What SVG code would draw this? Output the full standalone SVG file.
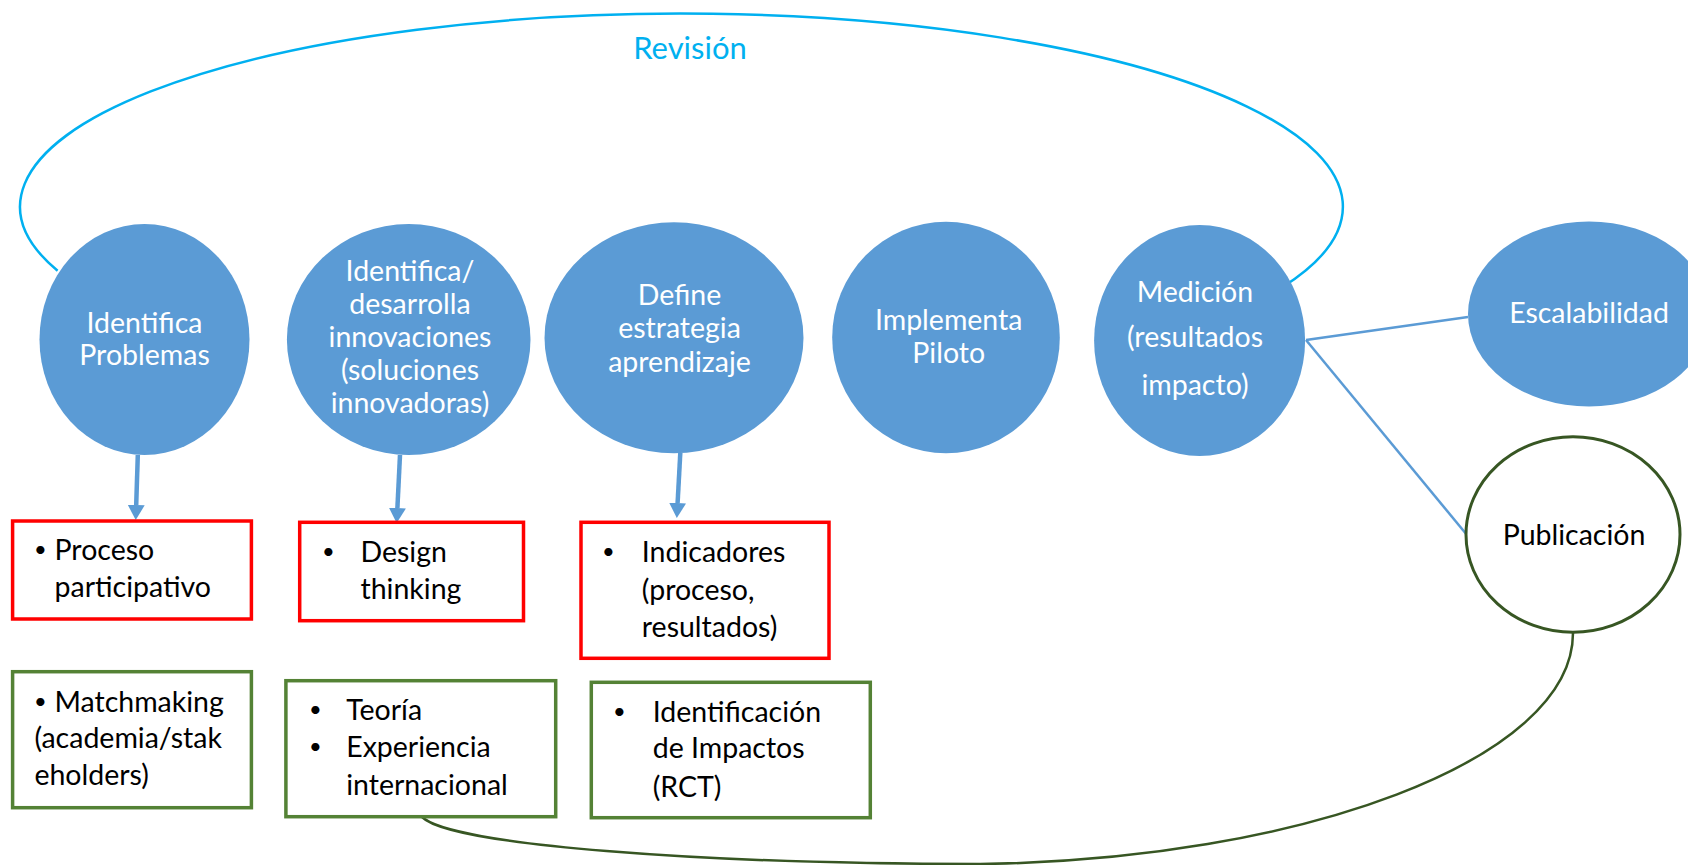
<svg xmlns="http://www.w3.org/2000/svg" width="1688" height="865" viewBox="0 0 1688 865">
<style>
.c{fill:#5B9BD5}
.t{font-family:Lato,"Liberation Sans",sans-serif;font-size:28.5px}
.w{fill:#FFFFFF;text-anchor:middle}
.k{fill:#000000}
.b{font-size:22px}
.red{fill:#FFFFFF;stroke:#FF0000;stroke-width:3.5}
.grn{fill:#FFFFFF;stroke:#548235;stroke-width:3.5}
.conn{fill:none;stroke:#5B9BD5;stroke-width:2.5}
.arr{fill:none;stroke:#5B9BD5;stroke-width:4.5}
</style>
<defs>
<marker id="ah" viewBox="0 0 15 17" refX="0" refY="8.5" markerWidth="15" markerHeight="17" markerUnits="userSpaceOnUse" orient="auto">
<path d="M0,0 L15,8.5 L0,17 z" fill="#5B9BD5"/>
</marker>
</defs>
<rect width="1688" height="865" fill="#FFFFFF"/>

<g id="connectors">
<path d="M57.6,270.7 A661.4,193 0 1 1 1282.3,287.3" fill="none" stroke="#00B0F0" stroke-width="2.5"/>
<line class="arr" x1="137.8" y1="455" x2="136.2" y2="505" marker-end="url(#ah)"/>
<line class="arr" x1="400" y1="455" x2="397.4" y2="508" marker-end="url(#ah)"/>
<line class="arr" x1="680.3" y1="453" x2="677.6" y2="503" marker-end="url(#ah)"/>
<line class="conn" x1="1306" y1="340" x2="1468" y2="317"/>
<line class="conn" x1="1306" y1="340" x2="1467" y2="535"/>
<path d="M422,817 C450,845 700,864 980,864 C1300,860 1573,760 1573,633" fill="none" stroke="#375623" stroke-width="2.5"/>
</g>

<text class="t" x="690" y="59" text-anchor="middle" fill="#00B0F0" style="font-size:31px">Revisión</text>

<g id="n1">
<ellipse class="c" cx="144.5" cy="339.5" rx="105" ry="115.5"/>
<text class="t w"><tspan x="144.5" y="333">Identifica</tspan><tspan x="144.5" y="365">Problemas</tspan></text>
</g>
<g id="n2">
<ellipse class="c" cx="408.7" cy="339.5" rx="121.8" ry="115.5"/>
<text class="t w"><tspan x="410" y="281">Identifica/</tspan><tspan x="410" y="314">desarrolla</tspan><tspan x="410" y="347">innovaciones</tspan><tspan x="410" y="380">(soluciones</tspan><tspan x="410" y="413">innovadoras)</tspan></text>
</g>
<g id="n3">
<ellipse class="c" cx="674" cy="337.8" rx="129.5" ry="115.5"/>
<text class="t w"><tspan x="679.5" y="305">Define</tspan><tspan x="679.5" y="338">estrategia</tspan><tspan x="679.5" y="372">aprendizaje</tspan></text>
</g>
<g id="n4">
<ellipse class="c" cx="946" cy="337.5" rx="113.8" ry="115.8"/>
<text class="t w"><tspan x="948.7" y="330">Implementa</tspan><tspan x="948.7" y="362.7">Piloto</tspan></text>
</g>
<g id="n5">
<ellipse class="c" cx="1199.6" cy="340.5" rx="105.5" ry="115.5"/>
<text class="t w"><tspan x="1195" y="301.7">Medición</tspan><tspan x="1195" y="347.3">(resultados</tspan><tspan x="1195" y="395">impacto)</tspan></text>
</g>
<g id="n6">
<ellipse class="c" cx="1589" cy="314" rx="121" ry="92.5"/>
<text class="t w" x="1589" y="323.3">Escalabilidad</text>
</g>
<g id="n7">
<ellipse cx="1573" cy="534.5" rx="107" ry="97.8" fill="#FFFFFF" stroke="#375623" stroke-width="3"/>
<text class="t k" x="1574" y="545" text-anchor="middle">Publicación</text>
</g>

<g id="b1">
<rect class="red" x="12.6" y="521" width="238.8" height="98"/>
<text class="t k"><tspan class="b" x="34" y="557">•</tspan><tspan x="54.5" y="560">Proceso</tspan><tspan x="54.5" y="597">participativo</tspan></text>
</g>
<g id="b2">
<rect class="red" x="299.7" y="522.3" width="223.8" height="98.4"/>
<text class="t k"><tspan class="b" x="322" y="558.7">•</tspan><tspan x="360.5" y="561.7">Design</tspan><tspan x="360.5" y="599.3">thinking</tspan></text>
</g>
<g id="b3">
<rect class="red" x="581" y="522.3" width="248" height="136"/>
<text class="t k"><tspan class="b" x="602" y="558.7">•</tspan><tspan x="641.8" y="561.7">Indicadores</tspan><tspan x="641.8" y="600">(proceso,</tspan><tspan x="641.8" y="636.7">resultados)</tspan></text>
</g>
<g id="b4">
<rect class="grn" x="12.6" y="671.7" width="238.8" height="136"/>
<text class="t k"><tspan class="b" x="34" y="708.7">•</tspan><tspan x="54.5" y="711.7">Matchmaking</tspan><tspan x="34.4" y="748.3">(academia/stak</tspan><tspan x="34.4" y="785">eholders)</tspan></text>
</g>
<g id="b5">
<rect class="grn" x="285.9" y="680.7" width="269.8" height="136"/>
<text class="t k"><tspan class="b" x="309" y="717">•</tspan><tspan x="346.2" y="720">Teoría</tspan><tspan class="b" x="309" y="753.7">•</tspan><tspan x="346.2" y="756.7">Experiencia</tspan><tspan x="346.2" y="795">internacional</tspan></text>
</g>
<g id="b6">
<rect class="grn" x="591.3" y="682.3" width="279" height="135.4"/>
<text class="t k"><tspan class="b" x="613" y="718.7">•</tspan><tspan x="652.7" y="721.7">Identificación</tspan><tspan x="652.7" y="758.3">de Impactos</tspan><tspan x="652.7" y="796.7">(RCT)</tspan></text>
</g>
</svg>
